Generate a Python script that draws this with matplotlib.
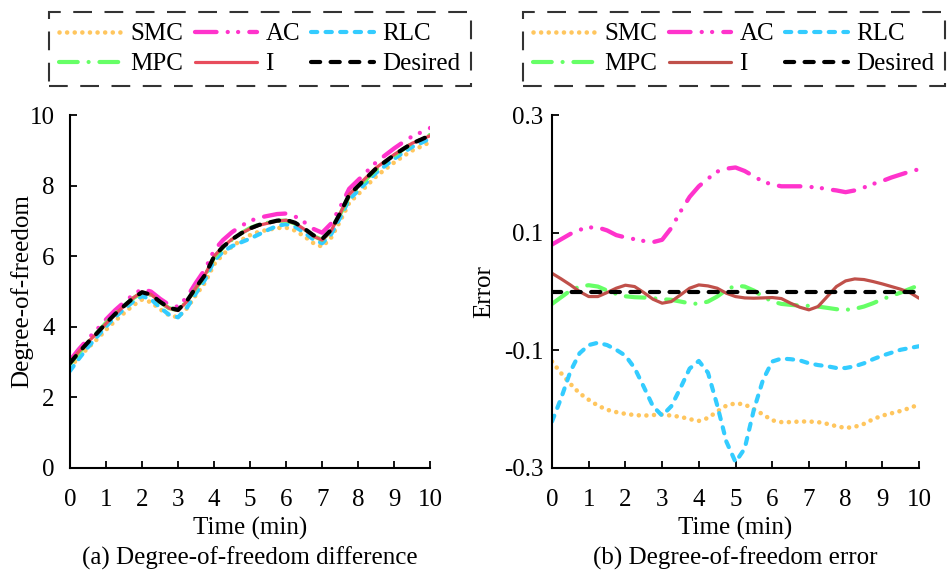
import numpy as np
import matplotlib
matplotlib.use("Agg")
import matplotlib.pyplot as plt

plt.rcParams['font.family'] = ['Liberation Serif', 'DejaVu Serif']
plt.rcParams['axes.unicode_minus'] = False

# time axis (min), read every quarter minute
t = np.arange(0, 10.01, 0.25)

# desired degree-of-freedom (left panel, black dashed)
desired = [2.97, 3.28, 3.56, 3.82, 4.10, 4.36, 4.59, 4.81, 4.98, 4.91,
           4.71, 4.54, 4.48, 4.74, 5.12, 5.47, 5.99, 6.27, 6.48, 6.65,
           6.79, 6.89, 6.95, 7.01, 7.03, 6.95, 6.79, 6.60, 6.49, 6.75,
           7.22, 7.74, 7.99, 8.24, 8.49, 8.68, 8.87, 9.04, 9.20, 9.31, 9.43]

# errors of each controller (right panel)
err_smc = [-0.119, -0.139, -0.157, -0.173, -0.184, -0.194, -0.201, -0.205, -0.208, -0.210,
           -0.211, -0.210, -0.209, -0.211, -0.213, -0.217, -0.220, -0.215, -0.204, -0.194,
           -0.190, -0.192, -0.200, -0.209, -0.219, -0.222, -0.222, -0.221, -0.221, -0.222,
           -0.225, -0.229, -0.232, -0.230, -0.225, -0.217, -0.211, -0.207, -0.203, -0.198, -0.192]
err_ac = [0.080, 0.089, 0.098, 0.105, 0.109, 0.109, 0.104, 0.096, 0.092, 0.089,
          0.086, 0.084, 0.088, 0.108, 0.136, 0.161, 0.179, 0.192, 0.204, 0.209,
          0.211, 0.205, 0.196, 0.187, 0.182, 0.179, 0.179, 0.179, 0.178, 0.177,
          0.174, 0.172, 0.169, 0.172, 0.177, 0.183, 0.188, 0.194, 0.199, 0.204, 0.208]
err_rlc = [-0.221, -0.181, -0.136, -0.105, -0.091, -0.087, -0.091, -0.099, -0.109, -0.130,
           -0.162, -0.195, -0.211, -0.195, -0.164, -0.131, -0.118, -0.138, -0.193, -0.255,
           -0.290, -0.267, -0.201, -0.150, -0.119, -0.114, -0.115, -0.117, -0.122, -0.125,
           -0.127, -0.130, -0.130, -0.127, -0.122, -0.115, -0.109, -0.104, -0.099, -0.096, -0.093]
err_mpc = [-0.021, -0.0096, 0.0017, 0.0085, 0.0108, 0.0085, 0.0017, -0.004, -0.008, -0.0096,
           -0.0102, -0.0113, -0.013, -0.014, -0.017, -0.020, -0.021, -0.017, -0.0085, 0.0028,
           0.0102, 0.0085, 0.0017, -0.0085, -0.017, -0.021, -0.0226, -0.0238, -0.0243, -0.0255,
           -0.0277, -0.030, -0.0311, -0.0294, -0.0255, -0.0198, -0.013, -0.0074, -0.0017, 0.0045, 0.0108]
err_i = [0.031, 0.0215, 0.0113, 0.0, -0.0085, -0.0085, -0.0017, 0.0057, 0.0108, 0.0085,
         -0.0017, -0.013, -0.0198, -0.017, -0.0057, 0.0057, 0.0113, 0.0096, 0.0057, -0.0028,
         -0.0085, -0.0108, -0.0113, -0.0108, -0.0102, -0.0119, -0.0198, -0.0266, -0.0311, -0.0255,
         -0.0085, 0.0085, 0.0181, 0.0215, 0.0204, 0.017, 0.013, 0.0085, 0.004, -0.0017, -0.0113]
err_desired = [0.0] * len(t)

names = ['SMC', 'AC', 'RLC', 'MPC', 'I', 'Desired']
errors = [err_smc, err_ac, err_rlc, err_mpc, err_i, err_desired]

colors_left = ['#FFC65E', '#FF33CC', '#33CCFF', '#66FF66', '#E84C5C', 'black']
colors_right = ['#FFC65E', '#FF33CC', '#33CCFF', '#66FF66', '#C0504A', 'black']
styles = [(0, (0.01, 1.65)),
          (0, (5, 2.6, 0.01, 2.4, 0.01, 2.6)),
          (0, (1.5, 2.0)),
          (0, (4.5, 2.6, 0.01, 2.6)),
          '-',
          (0, (2.2, 2.5))]
widths = [3.3, 3.1, 3.0, 3.0, 2.3, 3.0]

FS = 18

fig = plt.figure(figsize=(9.48, 5.70), dpi=100)
ax1 = fig.add_axes([0.0738, 0.179, 0.38, 0.619])
ax2 = fig.add_axes([0.5823, 0.179, 0.3871, 0.619])

desired_arr = np.array(desired)
for name, e, c1, c2, ls, lw in zip(names, errors, colors_left, colors_right, styles, widths):
    ax1.plot(t, desired_arr + np.array(e), color=c1, linestyle=ls, linewidth=lw,
             dash_capstyle='round', solid_capstyle='round', label=name)
    ax2.plot(t, e, color=c2, linestyle=ls, linewidth=lw,
             dash_capstyle='round', solid_capstyle='round', label=name)

for ax in (ax1, ax2):
    ax.spines['top'].set_visible(False)
    ax.spines['right'].set_visible(False)
    ax.spines['left'].set_linewidth(1.5)
    ax.spines['bottom'].set_linewidth(1.5)
    ax.set_xlim(0, 10)
    ax.set_xticks(range(0, 11))
    ax.tick_params(direction='in', length=5, width=1.3, labelsize=FS)
    ax.tick_params(axis='x', pad=15)
    ax.set_xlabel('Time (min)', fontsize=FS)
    ax.xaxis.label.set_va('center')
    ax.xaxis.set_label_coords(0.5, -0.172)

ax1.set_ylim(0, 10)
ax1.set_yticks([0, 2, 4, 6, 8, 10])
ax1.tick_params(axis='y', pad=11)
ax1.set_ylabel('Degree-of-freedom', fontsize=FS)
ax1.yaxis.label.set_va('center')
ax1.yaxis.set_label_coords(-0.135, 0.5)

ax2.set_ylim(-0.3, 0.3)
ax2.set_yticks([-0.3, -0.1, 0.1, 0.3])
ax2.set_yticklabels(['-0.3', '-0.1', '0.1', '0.3'])
ax2.tick_params(axis='y', pad=6)
ax2.set_ylabel('Error', fontsize=FS)
ax2.yaxis.label.set_va('center')
ax2.yaxis.set_label_coords(-0.186, 0.5)

# legend row-wise: SMC AC RLC / MPC I Desired
order = [0, 3, 1, 4, 2, 5]
for ax, x0, x1 in ((ax1, 48, 472), (ax2, 523, 945)):
    h, l = ax.get_legend_handles_labels()
    leg = ax.legend([h[i] for i in order], [l[i] for i in order],
                    ncol=3, fontsize=FS, frameon=True, fancybox=False,
                    handlelength=2.5, handletextpad=0.34, columnspacing=0.45,
                    borderpad=0.42, labelspacing=0.3, loc='center',
                    bbox_to_anchor=(x0 / 948, 1 - 88 / 570, (x1 - x0) / 948, 78 / 570),
                    bbox_transform=fig.transFigure, borderaxespad=0)
    fr = leg.get_frame()
    fr.set_edgecolor('black')
    fr.set_linewidth(1.5)
    fr.set_linestyle((0, (9, 6)))

fig.text(0.2637, 0.021, '(a) Degree-of-freedom difference', ha='center', va='center', fontsize=FS)
fig.text(0.776, 0.021, '(b) Degree-of-freedom error', ha='center', va='center', fontsize=FS)

fig.savefig('out.png', dpi=100)
